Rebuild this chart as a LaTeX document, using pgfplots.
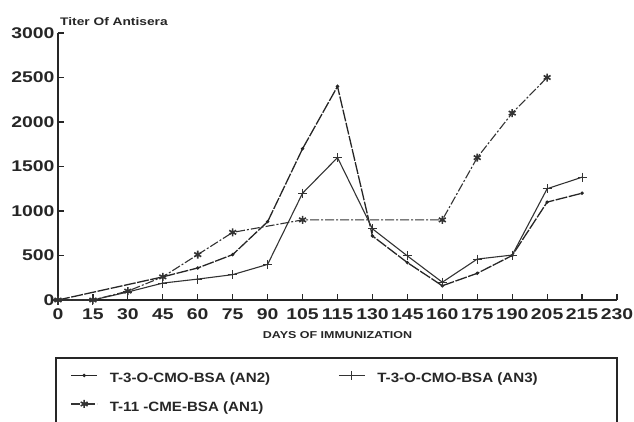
\documentclass[border=0pt]{standalone}
\usepackage{fontspec}
\setmainfont{Liberation Sans}[FakeStretch=1.25]
\newfontfamily\legfont{Liberation Sans}[FakeStretch=1.12]
\usepackage{pgfplots}
\pgfplotsset{compat=1.18}

% day -> category index: 0 15 30 45 60 75 90 105 115 130 145 160 175 190 205 215 230
\begin{document}
\begin{tikzpicture}
\begin{axis}[
    at={(0pt,0pt)}, anchor=south west,
    scale only axis,
    width=559pt, height=267pt,
    xmin=0, xmax=16, ymin=0, ymax=3000,
    axis lines=left,
    axis line style={-, line width=1.6pt, black!85},
    xtick={0,...,16},
    xticklabels={0,15,30,45,60,75,90,105,115,130,145,160,175,190,205,215,230},
    ytick={0,500,...,3000},
    tick align=inside,
    major tick length=6pt,
    tick style={line width=1.2pt, black!85},
    /pgf/number format/1000 sep={},
    /pgf/number format/assume math mode=true,
    tick label style={font=\fontsize{15.5}{15.5}\selectfont\bfseries, text=black!85},
    xticklabel style={yshift=-5pt},
    xlabel={DAYS OF IMMUNIZATION},
    xlabel style={font=\fontsize{10}{10}\selectfont\bfseries, text=black!85, yshift=-5pt},
    legend columns=2,
    legend cell align=left,
    legend style={draw=none, fill=none, inner sep=0pt,
        at={(axis description cs:0.022,-0.265)}, anchor=north west,
        font=\legfont\fontsize{13.5}{13.5}\selectfont\bfseries, text=black!85,
        nodes={inner sep=0pt, text height=10pt, text depth=3pt},
        row sep=14pt,
        /tikz/every even column/.append style={column sep=68pt},
        /tikz/every odd column/.append style={column sep=12pt}},
    legend image code/.code={\draw[mark repeat=2,mark phase=2,#1]
        plot coordinates {(0pt,4pt) (13pt,4pt) (26pt,4pt)};},
]
% AN2
\addplot[black!85, line width=1.3pt, dash pattern=on 12pt off 1.5pt,
    mark=*, mark size=1pt, mark options={solid}] coordinates {
    (0,0) (3,260) (4,360) (5,510) (6,880) (7,1700) (8,2400) (9,720)
    (10,420) (11,160) (12,300) (13,500) (14,1100) (15,1200)};
\addlegendentry{T-3-O-CMO-BSA (AN2)}
% AN3
\addplot[black!80, line width=1.1pt,
    mark=+, mark size=4.5pt, mark options={solid, line width=1.1pt}] coordinates {
    (0,0) (1,0) (2,90) (3,190) (4,235) (5,285) (6,400) (7,1200) (8,1600)
    (9,800) (10,495) (11,200) (12,460) (13,505) (14,1250) (15,1380)};
\addlegendentry{T-3-O-CMO-BSA (AN3)}
% AN1
\addplot[black!80, line width=1.1pt, dash pattern=on 9pt off 2pt on 2pt off 2pt,
    mark=asterisk, mark size=4pt, mark options={solid, line width=1.6pt}] coordinates {
    (0,0) (1,0) (2,100) (3,260) (4,510) (5,760) (7,900) (11,900)
    (12,1600) (13,2100) (14,2500)};
\addlegendentry{T-11 -CME-BSA (AN1)}
\end{axis}
\node[anchor=west, font=\fontsize{11}{11}\selectfont\bfseries, text=black!85, inner sep=0pt]
    at (2pt,278pt) {Titer Of Antisera};
\draw[line width=1.5pt, black!85] (-2pt,-140pt) -- (-2pt,-58pt) -- (559pt,-58pt) -- (559pt,-140pt);
\pgfresetboundingbox
\path[use as bounding box] (-58pt,-121pt) rectangle (576pt,300pt);
\end{tikzpicture}
\end{document}
